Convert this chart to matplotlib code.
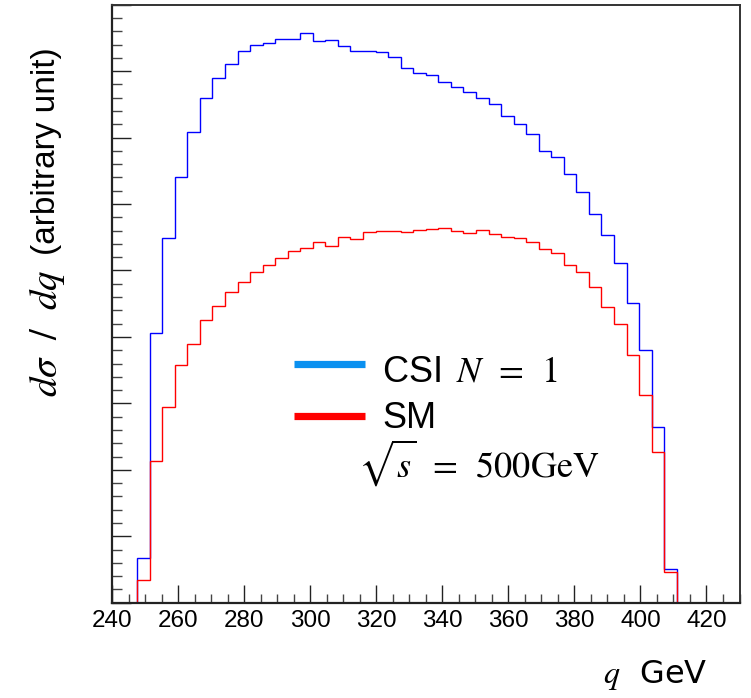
import numpy as np
import matplotlib
matplotlib.use("Agg")
import matplotlib.pyplot as plt
from matplotlib.ticker import MultipleLocator

plt.rcParams['font.family'] = ['Liberation Sans', 'DejaVu Sans']
plt.rcParams['mathtext.fontset'] = 'stix'

# Histogram binning: 50 bins from 240 to 430 GeV
q_min, q_max, n_bins = 240, 430, 50
edges = np.linspace(q_min, q_max, n_bins + 1)

# CSI N=1 (blue)
csi_values = [0, 0, 0.67, 4.06, 5.49, 6.40, 7.08, 7.59, 7.89, 8.11,
              8.30, 8.39, 8.42, 8.49, 8.49, 8.58, 8.46, 8.47, 8.38, 8.30,
              8.31, 8.29, 8.22, 8.04, 7.97, 7.94, 7.84, 7.76, 7.68, 7.60,
              7.50, 7.32, 7.21, 7.05, 6.80, 6.71, 6.45, 6.18, 5.85, 5.53,
              5.11, 4.51, 3.81, 2.64, 0.50, 0, 0, 0, 0, 0]
# SM (red)
sm_values = [0, 0, 0.34, 2.14, 2.94, 3.58, 3.90, 4.26, 4.47, 4.68,
             4.82, 4.98, 5.08, 5.19, 5.30, 5.34, 5.43, 5.37, 5.50, 5.48,
             5.58, 5.59, 5.60, 5.58, 5.61, 5.63, 5.64, 5.59, 5.57, 5.61,
             5.55, 5.50, 5.49, 5.43, 5.32, 5.26, 5.08, 4.97, 4.75, 4.45,
             4.20, 3.73, 3.12, 2.27, 0.46, 0, 0, 0, 0, 0]

x_ticks = [240, 260, 280, 300, 320, 340, 360, 380, 400, 420]

fig = plt.figure(figsize=(7.51, 6.98), dpi=100)
ax = fig.add_axes([112/751, (698-602.7)/698, (739.5-112)/751, (602.7-4.7)/698])

ax.stairs(csi_values, edges, color='#0000ff', lw=1.0)
ax.stairs(sm_values, edges, color='#ff0000', lw=1.0)

ax.set_xlim(q_min, q_max)
ax.set_ylim(0, 9)

ax.set_xticks(x_ticks)
ax.set_xticklabels([str(t) for t in x_ticks])
ax.xaxis.set_minor_locator(MultipleLocator(5))
ax.yaxis.set_major_locator(MultipleLocator(1))
ax.yaxis.set_minor_locator(MultipleLocator(0.2))
ax.tick_params(axis='both', which='both', direction='in', top=False, right=False)
ax.tick_params(axis='x', which='major', length=13, width=1, labelsize=17.5, pad=5, color='#222222')
ax.tick_params(axis='x', which='minor', length=6.5, width=1, color='#444444')
ax.tick_params(axis='y', which='major', length=14, width=1, labelleft=False, color='#222222')
ax.tick_params(axis='y', which='minor', length=7, width=1, color='#444444')

for side in ['left', 'bottom']:
    ax.spines[side].set_linewidth(1.6)
    ax.spines[side].set_color('#222222')
for side in ['top', 'right']:
    ax.spines[side].set_linewidth(1.4)
    ax.spines[side].set_color('#333333')

# y label (math part larger, as in the reference)
math_lbl = fig.text(47/751, 1 - 397/698, r'$d\sigma\ \ /\ \ dq$', rotation=90,
                    ha='center', va='bottom', fontsize=28)
fig.canvas.draw()
bb = math_lbl.get_window_extent()
fig.text(47/751, (bb.y1 + 15) / 698, '(arbitrary unit)', rotation=90,
         ha='center', va='bottom', fontsize=24)
# x label
fig.text(603/751, 1 - 683/698, r'$q$  GeV', ha='left', va='baseline',
         fontsize=23, family=['DejaVu Sans'])

# legend (manual)
def axf(px, py):
    return (px - 112) / 627.5, (602.7 - py) / 598.0

x0, y0 = axf(294, 364)
x1, _ = axf(365, 364)
ax.plot([x0, x1], [y0, y0], transform=ax.transAxes, color='#0a90f0', lw=5.2,
        solid_capstyle='butt', clip_on=False)
x0, y0 = axf(294, 416)
ax.plot([x0, x1], [y0, y0], transform=ax.transAxes, color='#ff0000', lw=5.2,
        solid_capstyle='butt', clip_on=False)
tx, ty = axf(382, 382)
ax.text(tx, ty, r'CSI $\,N\ \,=\ \,1$', transform=ax.transAxes, fontsize=26, va='baseline', ha='left')
tx, ty = axf(382, 428)
ax.text(tx, ty, 'SM', transform=ax.transAxes, fontsize=26, va='baseline', ha='left')
tx, ty = axf(358, 477)
ax.text(tx, ty, r'$\sqrt{s}\ \,=\ \,500\mathrm{GeV}$', transform=ax.transAxes, fontsize=26,
        va='baseline', ha='left')

fig.savefig('out.png', dpi=100)
